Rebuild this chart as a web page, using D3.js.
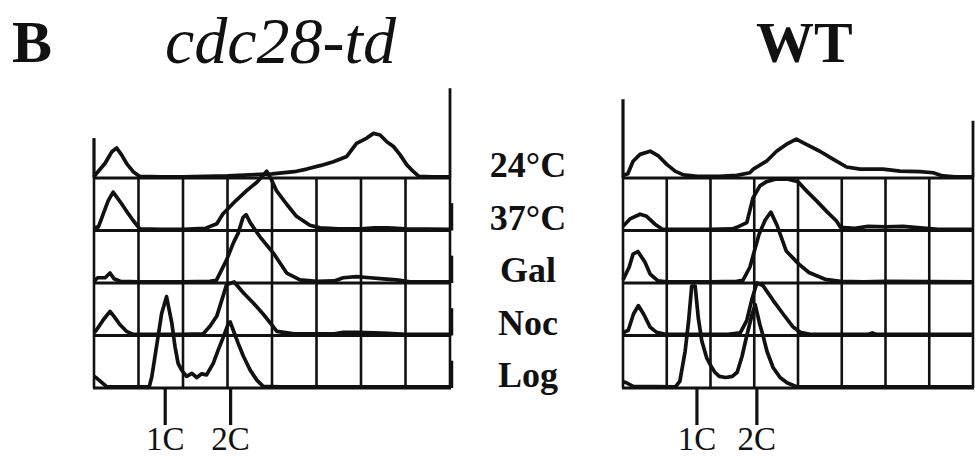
<!DOCTYPE html>
<html>
<head>
<meta charset="utf-8">
<title>FACS profiles</title>
<script type="text/javascript" src="https://d3js.org/d3.v7.min.js"></script>
<style>
  body { margin: 0; background: #fff; }
  text { font-family: "Liberation Serif", "Times New Roman", serif; fill: #111; }
</style>
</head>
<body>
<div id="chart"></div>
<script type="text/javascript">
// rows, top to bottom
var conditions = ["24°C", "37°C", "Gal", "Noc", "Log"];
var ploidy = ["1C", "2C"];

// histogram points: [DNA content in grid cells, count in row heights]
var mut24 = [[0,0.02],[0.06,0.09],[0.25,0.28],[0.4,0.5],[0.51,0.57],[0.62,0.44],[0.73,0.28],[0.88,0.12],[1.03,0.03],
  [1.5,0.02],[2,0.02],[2.5,0.03],[3,0.04],[3.5,0.06],[4,0.08],[4.5,0.12],[4.78,0.17],[5.1,0.24],[5.38,0.31],[5.68,0.41],
  [5.9,0.66],[6.13,0.76],[6.28,0.85],[6.43,0.82],[6.58,0.69],[6.73,0.6],[6.88,0.44],[7.03,0.25],[7.18,0.12],[7.3,0.03],[7.6,0.02],[8,0.02]];
var mut37 = [[0,0.05],[0.1,0.07],[0.21,0.32],[0.32,0.57],[0.43,0.73],[0.62,0.51],[0.77,0.32],[0.88,0.19],[1.03,0.03],
  [1.5,0.02],[2,0.02],[2.5,0.04],[2.76,0.13],[2.9,0.32],[3.19,0.57],[3.43,0.76],[3.66,0.92],[3.8,1.05],[3.88,1.13],
  [3.98,0.98],[4.1,0.76],[4.33,0.5],[4.55,0.27],[4.85,0.1],[5.08,0.05],[5.5,0.03],[6,0.03],[6.3,0.05],[6.6,0.05],[7,0.03],[8,0.02]];
var mutGal = [[0,0.03],[0.08,0.1],[0.25,0.1],[0.36,0.19],[0.45,0.08],[0.6,0.03],[1,0.02],[2,0.02],[2.6,0.03],[2.75,0.05],
  [2.98,0.44],[3.13,0.76],[3.24,0.95],[3.35,1.25],[3.42,1.3],[3.51,1.15],[3.73,0.88],[4.03,0.57],[4.33,0.19],[4.63,0.06],
  [5,0.03],[5.4,0.04],[5.6,0.1],[5.9,0.12],[6.2,0.1],[6.5,0.08],[6.8,0.06],[7.1,0.02],[8,0.02]];
var mutNoc = [[0,0.05],[0.06,0.11],[0.21,0.3],[0.36,0.46],[0.47,0.34],[0.58,0.21],[0.73,0.08],[0.88,0.02],[1.5,0.02],[2,0.02],
  [2.45,0.03],[2.61,0.18],[2.76,0.37],[2.9,0.75],[2.98,0.97],[3.15,1.02],[3.36,0.81],[3.58,0.62],[3.81,0.4],[3.96,0.24],
  [4.11,0.08],[4.5,0.03],[5.4,0.03],[5.6,0.06],[5.9,0.06],[6.3,0.05],[6.6,0.04],[7,0.02],[8,0.02]];
var mutLog = [[0,0.22],[0.06,0.19],[0.29,0.02],[1.24,0.02],[1.3,0.22],[1.37,0.6],[1.44,0.98],[1.52,1.42],[1.63,1.74],
  [1.75,1.23],[1.82,0.79],[1.89,0.47],[1.97,0.34],[2.08,0.22],[2.2,0.28],[2.31,0.2],[2.42,0.27],[2.53,0.25],[2.68,0.47],
  [2.79,0.72],[2.91,0.98],[3.02,1.23],[3.06,1.26],[3.13,1.1],[3.24,0.85],[3.36,0.6],[3.51,0.34],[3.66,0.15],[3.8,0.03],[4.2,0.02],[8,0.02]];

var wt24 = [[0,0.05],[0.11,0.08],[0.23,0.32],[0.39,0.45],[0.62,0.51],[0.81,0.42],[1,0.26],[1.19,0.13],[1.38,0.06],[1.7,0.03],
  [2.2,0.03],[2.6,0.05],[2.9,0.1],[2.98,0.17],[3.28,0.32],[3.51,0.51],[3.73,0.64],[3.96,0.74],[4.19,0.64],[4.5,0.51],
  [4.8,0.36],[5.11,0.21],[5.42,0.17],[5.94,0.17],[6.33,0.13],[6.79,0.12],[7.09,0.1],[7.31,0.04],[7.6,0.02],[8,0.02]];
var wt37 = [[0,0.08],[0.16,0.22],[0.39,0.31],[0.54,0.27],[0.73,0.12],[0.91,0.02],[1.5,0.02],[2,0.02],[2.5,0.03],[2.6,0.06],
  [2.83,0.15],[2.97,0.62],[3.13,0.85],[3.28,0.93],[3.5,0.98],[3.75,0.98],[4,0.93],[4.2,0.75],[4.43,0.56],[4.66,0.36],
  [4.88,0.18],[4.97,0.06],[5.3,0.04],[5.6,0.08],[6,0.07],[6.4,0.08],[6.8,0.05],[7.2,0.02],[8,0.02]];
var wtGal = [[0,0.06],[0.14,0.3],[0.23,0.55],[0.34,0.6],[0.5,0.4],[0.62,0.17],[0.8,0.04],[1,0.02],[2,0.02],[2.6,0.03],
  [2.74,0.05],[2.9,0.3],[3,0.6],[3.11,0.93],[3.25,1.2],[3.38,1.35],[3.52,1.1],[3.73,0.61],[4.02,0.36],[4.25,0.2],
  [4.62,0.07],[4.97,0.03],[5.5,0.02],[6,0.03],[8,0.02]];
var wtNoc = [[0,0.05],[0.12,0.1],[0.24,0.41],[0.35,0.57],[0.47,0.41],[0.62,0.16],[0.77,0.06],[1,0.02],[2,0.02],[2.4,0.02],
  [2.68,0.05],[2.83,0.29],[2.95,0.7],[3.06,1],[3.2,0.95],[3.43,0.67],[3.66,0.41],[3.89,0.16],[4.05,0.06],[4.3,0.02],
  [5.6,0.02],[5.7,0.05],[5.8,0.02],[8,0.02]];
var wtLog = [[0,0.12],[0.08,0.1],[0.23,0.03],[1.2,0.02],[1.3,0.13],[1.42,0.7],[1.5,1.28],[1.57,1.94],[1.65,1.94],[1.72,1.34],
  [1.8,0.9],[1.91,0.58],[2.03,0.39],[2.1,0.3],[2.2,0.22],[2.35,0.2],[2.5,0.22],[2.61,0.3],[2.72,0.6],[2.83,1],[2.95,1.4],
  [3.02,1.59],[3.13,1.2],[3.2,1],[3.29,0.7],[3.43,0.39],[3.59,0.2],[3.75,0.1],[3.98,0.02],[8,0.02]];

var mutTicks = [1.6, 3.07];
var wtTicks = [1.69, 3.06];

var width = 976, height = 456;
var rowH = 52.5, base0 = 178, nCells = 8;

var svg = d3.select("#chart").append("svg")
    .attr("width", width)
    .attr("height", height)
    .style("background", "#fff");

// row baselines
var yRow = d3.scaleLinear().domain([0, conditions.length - 1])
    .range([base0, base0 + rowH * (conditions.length - 1)]);
var hScale = d3.scaleLinear().domain([0, 1]).range([0, rowH]);

var panels = [
  {left: 94, right: 450, edgeL: 0.76, edgeR: 1.71, ticks: mutTicks, sideMarks: true,
   curves: [mut24, mut37, mutGal, mutNoc, mutLog]},
  {left: 623, right: 973, edgeL: 1.5, edgeR: 1.09, ticks: wtTicks, sideMarks: false,
   curves: [wt24, wt37, wtGal, wtNoc, wtLog]}
];

panels.forEach(function(p) {
    var x = d3.scaleLinear().domain([0, nCells]).range([p.left, p.right]);
    var g = svg.append("g");
    var last = conditions.length - 1;

    // grid
    g.selectAll(".vline")
        .data(d3.range(nCells + 1))
        .enter().append("line")
            .attr("x1", d => x(d)).attr("x2", d => x(d))
            .attr("y1", yRow(0)).attr("y2", yRow(last))
            .attr("stroke", "#111").attr("stroke-width", 2.6);
    g.selectAll(".hline")
        .data(d3.range(conditions.length))
        .enter().append("line")
            .attr("x1", x(0) - 1).attr("x2", x(nCells) + 1)
            .attr("y1", d => yRow(d)).attr("y2", d => yRow(d))
            .attr("stroke", "#111").attr("stroke-width", 2.8);
    // edges above the top row
    g.append("line")
        .attr("x1", x(0)).attr("x2", x(0))
        .attr("y1", yRow(0) - hScale(p.edgeL)).attr("y2", yRow(0))
        .attr("stroke", "#111").attr("stroke-width", 3.2);
    g.append("line")
        .attr("x1", x(nCells)).attr("x2", x(nCells))
        .attr("y1", yRow(0) - hScale(p.edgeR)).attr("y2", yRow(0))
        .attr("stroke", "#111").attr("stroke-width", 2.8);
    if (p.sideMarks) {
        g.selectAll(".mark")
            .data(d3.range(1, conditions.length))
            .enter().append("line")
                .attr("x1", x(nCells) + 1.5).attr("x2", x(nCells) + 1.5)
                .attr("y1", d => yRow(d) - hScale(0.52)).attr("y2", d => yRow(d))
                .attr("stroke", "#111").attr("stroke-width", 3.5);
    }

    // histograms
    p.curves.forEach(function(c, i) {
        var line = d3.line()
            .x(d => x(d[0]))
            .y(d => yRow(i) - hScale(d[1]));
        g.append("path")
            .attr("d", line(c))
            .attr("fill", "none")
            .attr("stroke", "#111")
            .attr("stroke-width", 3.7)
            .attr("stroke-linejoin", "round");
    });

    // 1C / 2C markers
    g.selectAll(".tick")
        .data(p.ticks)
        .enter().append("line")
            .attr("x1", d => x(d)).attr("x2", d => x(d))
            .attr("y1", yRow(last)).attr("y2", yRow(last) + 37)
            .attr("stroke", "#111").attr("stroke-width", 3.2);
    g.selectAll(".tlabel")
        .data(p.ticks)
        .enter().append("text")
            .attr("x", d => x(d))
            .attr("y", yRow(last) + 62)
            .attr("text-anchor", "middle")
            .style("font-size", "33px")
            .text((d, i) => ploidy[i]);
});

// condition labels between the panels
svg.selectAll(".cond")
    .data(conditions)
    .enter().append("text")
        .attr("x", 528)
        .attr("y", (d, i) => yRow(i) - 1)
        .attr("text-anchor", "middle")
        .style("font-size", "36px")
        .style("font-weight", "bold")
        .text(d => d);

// titles
svg.append("text").attr("x", 12).attr("y", 62)
    .style("font-size", "60px").style("font-weight", "bold").text("B");
svg.append("text").attr("x", 165).attr("y", 63)
    .style("font-size", "66px").style("font-style", "italic").text("cdc28-td");
svg.append("text").attr("x", 756).attr("y", 62)
    .style("font-size", "58px").style("font-weight", "bold").text("WT");
</script>
</body>
</html>
